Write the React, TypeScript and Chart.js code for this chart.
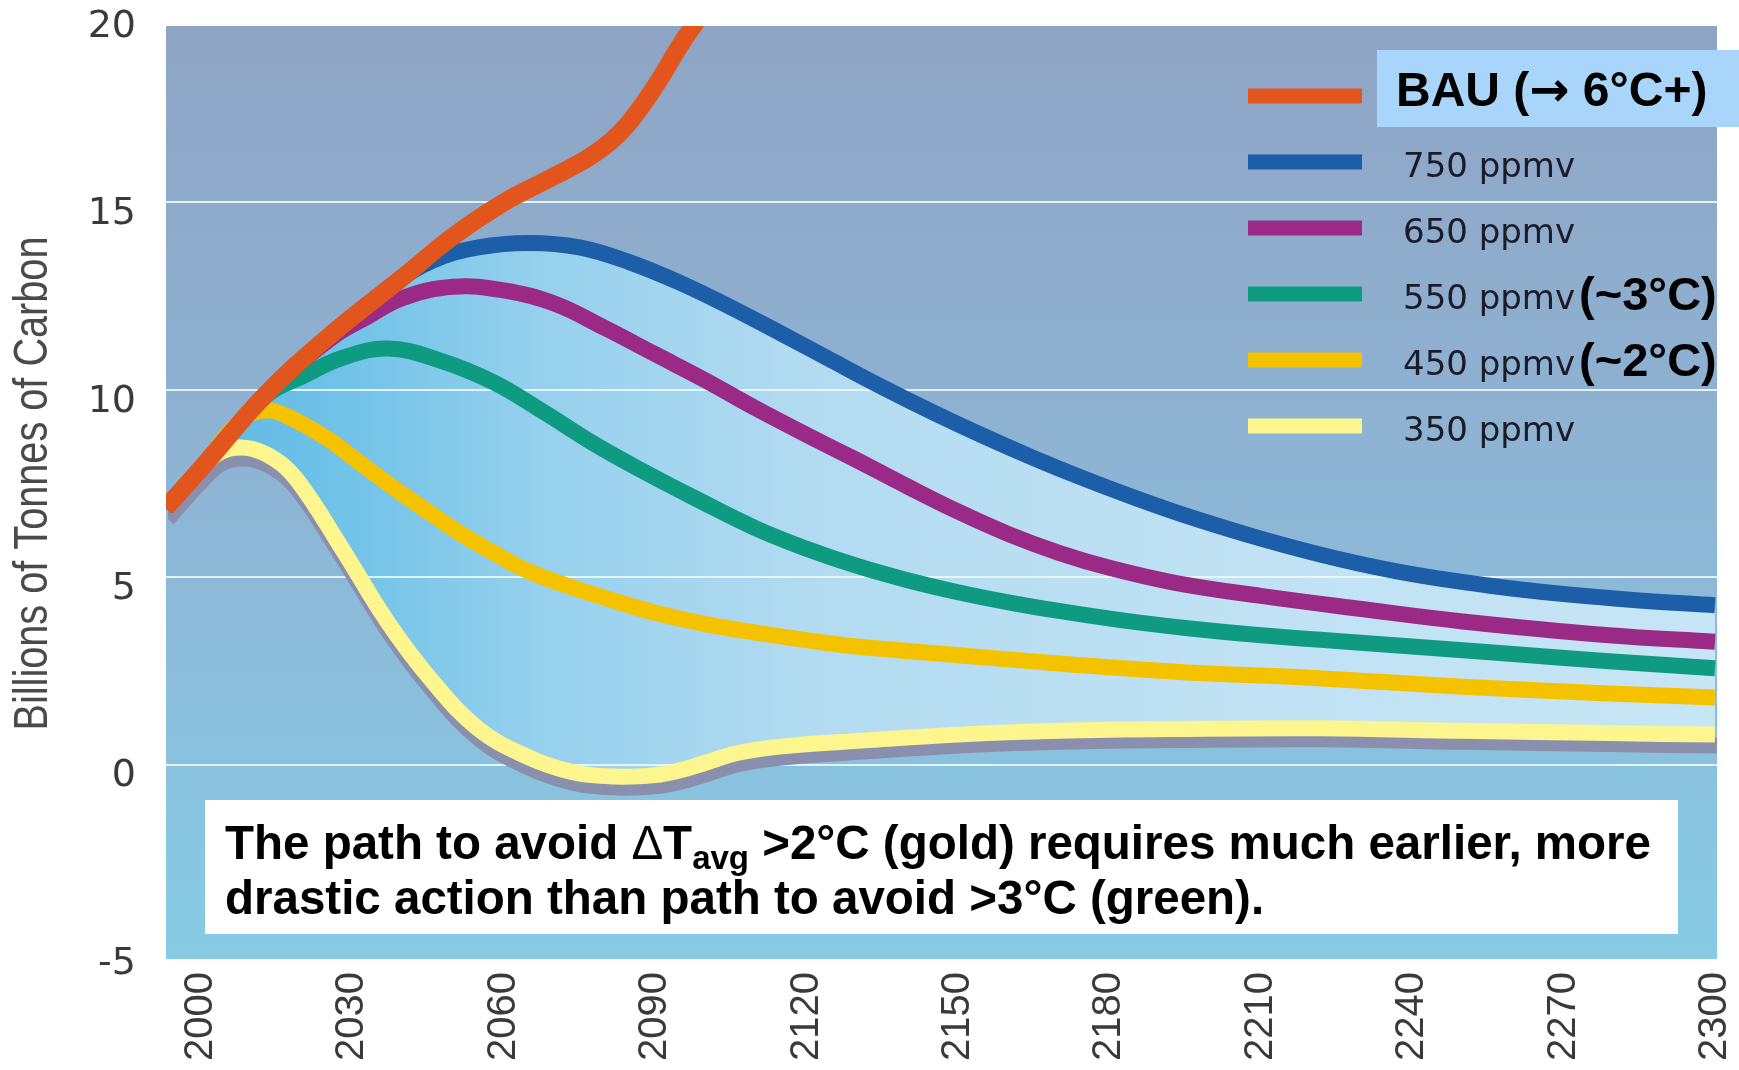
import React, { useEffect, useRef } from 'react';
import { Chart, registerables } from 'chart.js';

Chart.register(...registerables);

// ---------- data ----------
const YEAR_TICKS = [2000, 2030, 2060, 2090, 2120, 2150, 2180, 2210, 2240, 2270, 2300];
const VALUE_TICKS = [-5, 0, 5, 10, 15, 20];

const SERIES_NAMES = ['BAU (→ 6°C+)', '750 ppmv', '650 ppmv', '550 ppmv', '450 ppmv', '350 ppmv'];
const SERIES_NOTES = ['', '', '', '(~3°C)', '(~2°C)', ''];
const SERIES_COLORS = ['#e2561d', '#1d5ea8', '#9a2a86', '#0f9a82', '#f5c200', '#fdf58e'];
const SHADOW_COLOR = '#8a8fae';

const BAU_YEARS = [1993, 2000, 2013, 2026, 2040, 2050, 2060, 2070, 2078, 2084, 2090, 2095, 2100, 2106];
const BAU_VALUES = [6.85, 7.9, 9.9, 11.5, 13.0, 14.1, 15.0, 15.7, 16.3, 17.0, 18.1, 19.2, 20.2, 21.6];

const P750_YEARS = [1993, 2000, 2013, 2026, 2038, 2046, 2055, 2065, 2075, 2085, 2095, 2105, 2115, 2125, 2135, 2145, 2155, 2165, 2175, 2185, 2195, 2210, 2225, 2240, 2255, 2270, 2285, 2300];
const P750_VALUES = [6.85, 7.9, 9.9, 11.5, 12.8, 13.45, 13.8, 13.92, 13.8, 13.4, 12.85, 12.2, 11.5, 10.78, 10.07, 9.4, 8.77, 8.18, 7.63, 7.12, 6.65, 6.03, 5.5, 5.08, 4.78, 4.55, 4.38, 4.25];

const P650_YEARS = [1993, 2000, 2013, 2026, 2033, 2040, 2050, 2060, 2070, 2080, 2090, 2100, 2110, 2120, 2130, 2140, 2150, 2160, 2170, 2180, 2193, 2210, 2230, 2250, 2279, 2300];
const P650_VALUES = [6.85, 7.9, 9.9, 11.4, 11.95, 12.45, 12.75, 12.65, 12.3, 11.65, 10.95, 10.25, 9.5, 8.8, 8.12, 7.42, 6.75, 6.15, 5.65, 5.25, 4.85, 4.5, 4.15, 3.82, 3.45, 3.28];

const P550_YEARS = [1993, 2000, 2013, 2020, 2028, 2037, 2047, 2058, 2068, 2078, 2088, 2098, 2110, 2120, 2130, 2140, 2150, 2160, 2170, 2183, 2196, 2210, 2225, 2240, 2260, 2279, 2300];
const P550_VALUES = [6.85, 7.9, 9.85, 10.35, 10.85, 11.1, 10.8, 10.2, 9.4, 8.55, 7.8, 7.1, 6.3, 5.76, 5.3, 4.92, 4.6, 4.33, 4.1, 3.84, 3.63, 3.45, 3.3, 3.15, 2.95, 2.76, 2.57];

const P450_YEARS = [1993, 2000, 2008, 2013, 2017, 2025, 2031, 2038, 2045, 2051, 2058, 2065, 2072, 2080, 2090, 2100, 2111, 2120, 2130, 2150, 2170, 2193, 2222, 2250, 2279, 2300];
const P450_VALUES = [6.85, 7.9, 9.2, 9.45, 9.3, 8.7, 8.1, 7.4, 6.75, 6.2, 5.65, 5.15, 4.8, 4.45, 4.05, 3.75, 3.5, 3.32, 3.15, 2.92, 2.7, 2.48, 2.3, 2.08, 1.9, 1.79];

const P350_YEARS = [1993, 2000, 2004, 2009, 2014, 2019, 2028, 2037, 2046, 2055, 2064, 2073, 2082, 2090, 2095, 2100, 2107, 2118, 2131, 2150, 2170, 2193, 2222, 2250, 2279, 2300];
const P350_VALUES = [6.85, 7.9, 8.35, 8.45, 8.2, 7.6, 5.75, 3.8, 2.2, 0.95, 0.25, -0.18, -0.32, -0.28, -0.15, 0.05, 0.33, 0.52, 0.64, 0.8, 0.9, 0.95, 0.97, 0.9, 0.84, 0.8];

const NOTE_LINE_1 = ['The path to avoid ', 'Δ', 'T', 'avg', ' >2°C (gold) requires much earlier, more'];
const NOTE_LINE_2 = 'drastic action than path to avoid >3°C (green).';
const Y_TITLE = 'Billions of Tonnes of Carbon';

// ---------- layout / style ----------
const W = 1739;
const H = 1070;
const BOX = { left: 166, right: 1717, top: 26, bottom: 959 };
const LEGEND = { x0: 1248, x1: 1362, labelX: 1403, top: 96, step: 66 };
const SHADOW_INDEX = 6;
const SANS = "'Liberation Sans', Arial, sans-serif";

const pts = (xs: number[], ys: number[]) => xs.map((x, i) => ({ x, y: ys[i] }));

const lineDs = (label: string, xs: number[], ys: number[], color: string, width: number, extra: any = {}) => ({
  label,
  data: pts(xs, ys),
  borderColor: color,
  backgroundColor: color,
  borderWidth: width,
  pointRadius: 0,
  pointHoverRadius: 0,
  tension: 0.4,
  borderJoinStyle: 'round',
  borderCapStyle: 'butt',
  fill: false,
  clip: { left: 0, top: -11, right: 0, bottom: 7 },
  ...extra,
});

const decor = {
  id: 'decor',
  beforeDraw(chart: any) {
    const { ctx } = chart;
    ctx.save();
    ctx.fillStyle = '#ffffff';
    ctx.fillRect(0, 0, W, H);
    const g = ctx.createLinearGradient(0, BOX.top, 0, BOX.bottom);
    g.addColorStop(0, '#8fa4c5');
    g.addColorStop(0.45, '#8eb3d3');
    g.addColorStop(1, '#87cbe5');
    ctx.fillStyle = g;
    ctx.fillRect(BOX.left, BOX.top, BOX.right - BOX.left, BOX.bottom - BOX.top);
    // y axis title (condensed, rotated)
    const ya = chart.scales.y;
    const cy = (ya.top + ya.bottom) / 2;
    ctx.font = `48px ${SANS}`;
    const tw = ctx.measureText(Y_TITLE).width;
    ctx.translate(34, cy);
    ctx.rotate(-Math.PI / 2);
    ctx.scale(494 / tw, 1);
    ctx.fillStyle = '#4a4a4a';
    ctx.textAlign = 'center';
    ctx.textBaseline = 'middle';
    ctx.fillText(Y_TITLE, 0, 0);
    ctx.restore();
  },
  beforeDatasetsDraw(chart: any) {
    const { ctx } = chart;
    const ys = chart.scales.y;
    ctx.save();
    ctx.strokeStyle = 'rgba(236,248,255,0.9)';
    ctx.lineWidth = 2;
    VALUE_TICKS.forEach((v) => {
      if (v <= VALUE_TICKS[0] || v >= VALUE_TICKS[VALUE_TICKS.length - 1]) return;
      const y = Math.round(ys.getPixelForValue(v));
      ctx.beginPath();
      ctx.moveTo(BOX.left, y);
      ctx.lineTo(BOX.right, y);
      ctx.stroke();
    });
    ctx.restore();
  },
  beforeDatasetDraw(chart: any, args: any) {
    if (args.index === SHADOW_INDEX) {
      chart.ctx.save();
      chart.ctx.translate(2, 11);
    }
  },
  afterDatasetDraw(chart: any, args: any) {
    if (args.index === SHADOW_INDEX) chart.ctx.restore();
  },
  afterDatasetsDraw(chart: any) {
    const { ctx } = chart;
    ctx.save();
    // legend
    SERIES_NAMES.forEach((name, i) => {
      const cy = LEGEND.top + i * LEGEND.step;
      ctx.strokeStyle = SERIES_COLORS[i];
      ctx.lineWidth = 15;
      ctx.lineCap = 'butt';
      ctx.beginPath();
      ctx.moveTo(LEGEND.x0, cy);
      ctx.lineTo(LEGEND.x1, cy);
      ctx.stroke();
      ctx.textBaseline = 'alphabetic';
      ctx.textAlign = 'left';
      if (i === 0) {
        ctx.fillStyle = '#a9d5fa';
        ctx.fillRect(1377, 50, W - 1377, 77);
        ctx.fillStyle = '#000000';
        const parts = name.split('→');
        let x = 1396;
        ctx.font = `bold 48px ${SANS}`;
        ctx.fillText(parts[0], x, 106);
        x += ctx.measureText(parts[0]).width;
        ctx.font = "bold 48px 'DejaVu Sans', sans-serif";
        ctx.fillText('→', x, 106);
        x += ctx.measureText('→').width;
        ctx.font = `bold 48px ${SANS}`;
        ctx.fillText(parts[1] || '', x, 106);
      } else {
        ctx.fillStyle = '#1c1c28';
        ctx.font = "34px 'DejaVu Sans', sans-serif";
        ctx.fillText(name, LEGEND.labelX, cy + 15);
        const wName = ctx.measureText(name).width;
        if (SERIES_NOTES[i]) {
          ctx.fillStyle = '#000000';
          ctx.font = `bold 47px ${SANS}`;
          ctx.fillText(SERIES_NOTES[i], LEGEND.labelX + wName + 4, cy + 16);
        }
      }
    });
    // note box
    ctx.fillStyle = '#ffffff';
    ctx.fillRect(205, 800, 1473, 134);
    ctx.fillStyle = '#000000';
    let x = 225;
    const b1 = 859;
    const bold = `bold 47.5px ${SANS}`;
    ctx.font = bold;
    ctx.fillText(NOTE_LINE_1[0], x, b1);
    x += ctx.measureText(NOTE_LINE_1[0]).width;
    ctx.font = `47.5px ${SANS}`;
    ctx.fillText(NOTE_LINE_1[1], x, b1);
    x += ctx.measureText(NOTE_LINE_1[1]).width;
    ctx.font = bold;
    ctx.fillText(NOTE_LINE_1[2], x, b1);
    x += ctx.measureText(NOTE_LINE_1[2]).width;
    ctx.font = `bold 33px ${SANS}`;
    ctx.fillText(NOTE_LINE_1[3], x, b1 + 10);
    x += ctx.measureText(NOTE_LINE_1[3]).width;
    ctx.font = bold;
    ctx.fillText(NOTE_LINE_1[4], x, b1);
    ctx.fillText(NOTE_LINE_2, 225, 914);
    ctx.restore();
  },
};

export default function App() {
  const ref = useRef<HTMLCanvasElement>(null);
  useEffect(() => {
    const canvas = ref.current;
    if (!canvas) return;
    const fillGradient = (c: any) => {
      const chart = c.chart;
      const xs = chart.scales && chart.scales.x;
      if (!xs || !chart.chartArea) return '#a9d6ee';
      const x0 = xs.getPixelForValue(2000);
      const x1 = xs.getPixelForValue(2300);
      const g = chart.ctx.createLinearGradient(x0, 0, x1, 0);
      g.addColorStop(0, '#5fb9e4');
      g.addColorStop(0.1, '#72c3e8');
      g.addColorStop(0.22, '#95d0ed');
      g.addColorStop(0.4, '#b2dbf1');
      g.addColorStop(0.7, '#c0e2f4');
      g.addColorStop(1, '#c6e5f5');
      return g;
    };
    const chart = new Chart(canvas, {
      type: 'line',
      data: {
        datasets: [
          lineDs(SERIES_NAMES[0], BAU_YEARS, BAU_VALUES, SERIES_COLORS[0], 18),
          lineDs(SERIES_NAMES[1], P750_YEARS, P750_VALUES, SERIES_COLORS[1], 16, {
            fill: { target: 5 },
            backgroundColor: fillGradient,
          }),
          lineDs(SERIES_NAMES[2], P650_YEARS, P650_VALUES, SERIES_COLORS[2], 16),
          lineDs(SERIES_NAMES[3], P550_YEARS, P550_VALUES, SERIES_COLORS[3], 16),
          lineDs(SERIES_NAMES[4], P450_YEARS, P450_VALUES, SERIES_COLORS[4], 16),
          lineDs(SERIES_NAMES[5], P350_YEARS, P350_VALUES, SERIES_COLORS[5], 16),
          lineDs('shadow', P350_YEARS, P350_VALUES, SHADOW_COLOR, 16),
        ] as any,
      },
      options: {
        responsive: false,
        animation: false,
        devicePixelRatio: 1,
        events: [],
        layout: { padding: { left: 0, top: 15, right: 22, bottom: 0 } },
        plugins: {
          legend: { display: false },
          tooltip: { enabled: false },
          title: { display: false },
          filler: { drawTime: 'beforeDatasetsDraw', propagate: false },
        } as any,
        scales: {
          x: {
            type: 'linear',
            min: 1993.07,
            max: 2300.4,
            grid: { display: false },
            border: { display: false },
            afterBuildTicks: (s: any) => {
              s.ticks = YEAR_TICKS.map((v) => ({ value: v }));
            },
            afterFit: (s: any) => {
              s.height = H - 952;
              s.paddingLeft = 0;
              s.paddingRight = 0;
            },
            ticks: {
              autoSkip: false,
              minRotation: 90,
              maxRotation: 90,
              padding: 12,
              color: '#3a3a3a',
              font: { family: SANS, size: 40 },
              callback: (v: any) => String(v),
            },
          },
          y: {
            type: 'linear',
            min: -5,
            max: 20,
            grid: { display: false },
            border: { display: false },
            afterBuildTicks: (s: any) => {
              s.ticks = VALUE_TICKS.map((v) => ({ value: v }));
            },
            afterFit: (s: any) => {
              s.width = BOX.left;
              s.paddingTop = 0;
              s.paddingBottom = 0;
            },
            ticks: {
              padding: 22,
              labelOffset: 12,
              color: '#3a3a3a',
              font: { family: "'DejaVu Sans', sans-serif", size: 38 },
              callback: (v: any) => String(v),
            },
          },
        },
      } as any,
      plugins: [decor as any],
    });
    return () => chart.destroy();
  }, []);
  return (
    <div style={{ position: 'absolute', left: 0, top: 0, width: W, height: H, background: '#ffffff' }}>
      <canvas ref={ref} width={W} height={H} style={{ display: 'block', width: W, height: H }} />
    </div>
  );
}
